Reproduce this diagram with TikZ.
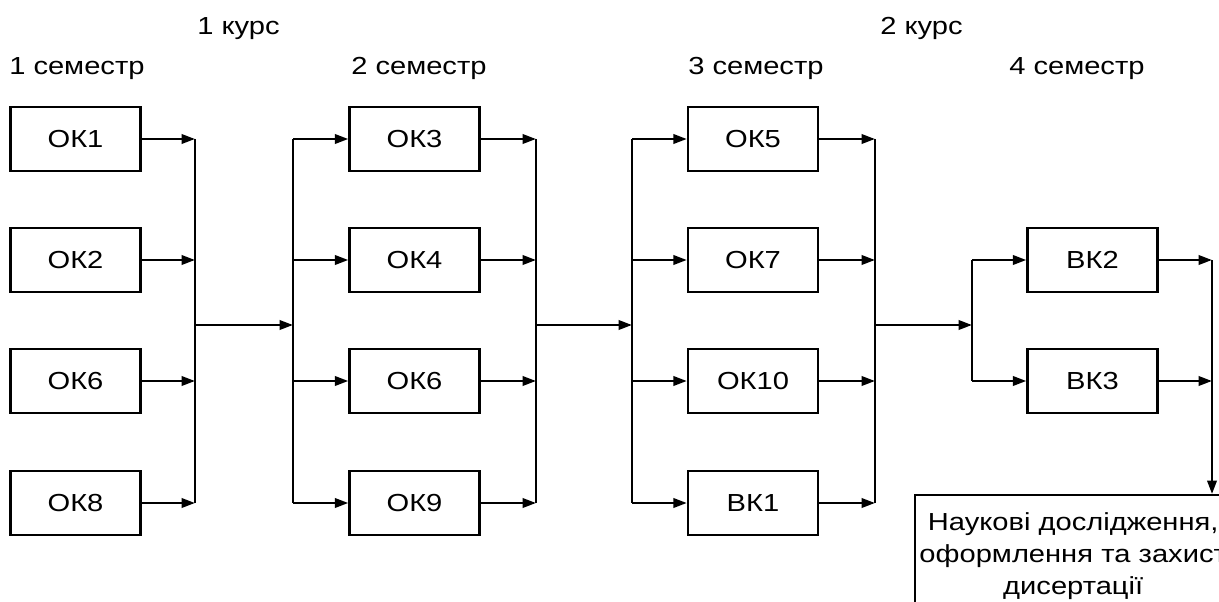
\documentclass[tikz,border=0pt]{standalone}
\usepackage{fontspec}
\setmainfont{Liberation Sans}[FakeStretch=1.18]
\usetikzlibrary{arrows.meta,positioning}
\tikzset{
  course/.style={draw,line width=1.8pt,minimum width=97.5pt,minimum height=48pt,
    inner sep=0pt,font=\fontsize{18.5}{24}\selectfont},
  ar/.style={line width=1.8pt,-{Triangle[length=10pt,width=7pt]}},
  bus/.style={line width=1.8pt},
  sem/.style={anchor=base west,inner sep=0pt,font=\fontsize{18.5}{24}\selectfont},
}

\begin{document}
\begin{tikzpicture}[x=0.75pt,y=-0.75pt]
  \useasboundingbox (0,0) rectangle (1219,602);
  \clip (0,0) rectangle (1219,602);

  % headers: years and semesters
  \node[sem] (yr1) at (197,35) {1 курс};
  \node[sem] (yr2) at (880,35) {2 курс};
  \node[sem] (sem1) at (9,75) {1 семестр};
  \node[sem] (sem2) at (351,75) {2 семестр};
  \node[sem] (sem3) at (688,75) {3 семестр};
  \node[sem] (sem4) at (1009,75) {4 семестр};

  % semester 1
  \node[course] (ok1)  at (75.5,139) {ОК1};
  \node[course] (ok2)  at (75.5,260) {ОК2};
  \node[course] (ok6a) at (75.5,381) {ОК6};
  \node[course] (ok8)  at (75.5,503) {ОК8};
  \coordinate (b1) at (195,325);
  \foreach \n in {ok1,ok2,ok6a,ok8} \draw[ar] (\n) -- (\n -| b1);
  \draw[bus] (b1 |- ok1) -- (b1 |- ok8);

  % semester 2
  \node[course] (ok3)  at (414.5,139) {ОК3};
  \node[course] (ok4)  at (414.5,260) {ОК4};
  \node[course] (ok6b) at (414.5,381) {ОК6};
  \node[course] (ok9)  at (414.5,503) {ОК9};
  \coordinate (a2) at (293,325);
  \coordinate (b2) at (536,325);
  \draw[ar] (b1) -- (a2);
  \draw[bus] (a2 |- ok3) -- (a2 |- ok9);
  \draw[bus] (b2 |- ok3) -- (b2 |- ok9);
  \foreach \n in {ok3,ok4,ok6b,ok9} {
    \draw[ar] (a2 |- \n) -- (\n);
    \draw[ar] (\n) -- (\n -| b2);
  }

  % semester 3
  \node[course] (ok5)  at (753,139) {ОК5};
  \node[course] (ok7)  at (753,260) {ОК7};
  \node[course] (ok10) at (753,381) {ОК10};
  \node[course] (vk1)  at (753,503) {ВК1};
  \coordinate (a3) at (632,325);
  \coordinate (b3) at (875,325);
  \draw[ar] (b2) -- (a3);
  \draw[bus] (a3 |- ok5) -- (a3 |- vk1);
  \draw[bus] (b3 |- ok5) -- (b3 |- vk1);
  \foreach \n in {ok5,ok7,ok10,vk1} {
    \draw[ar] (a3 |- \n) -- (\n);
    \draw[ar] (\n) -- (\n -| b3);
  }

  % semester 4
  \node[course] (vk2) at (1092.5,260) {ВК2};
  \node[course] (vk3) at (1092.5,381) {ВК3};
  \coordinate (a4) at (972,325);
  \coordinate (b4) at (1212,325);
  \draw[ar] (b3) -- (a4);
  \draw[bus] (a4 |- vk2) -- (a4 |- vk3);
  \foreach \n in {vk2,vk3} {
    \draw[ar] (a4 |- \n) -- (\n);
    \draw[ar] (\n) -- (\n -| b4);
  }

  % thesis
  \node[draw,line width=1.8pt,anchor=north west,align=center,text width=237pt,
    inner xsep=0pt,inner ysep=12.8pt,font=\fontsize{18.5}{24}\selectfont]
    (res) at (914,494) {Наукові дослідження,\\оформлення та захист\\дисертації};
  \draw[ar] (b4 |- vk2) -- (b4 |- res.north);
\end{tikzpicture}
\end{document}
